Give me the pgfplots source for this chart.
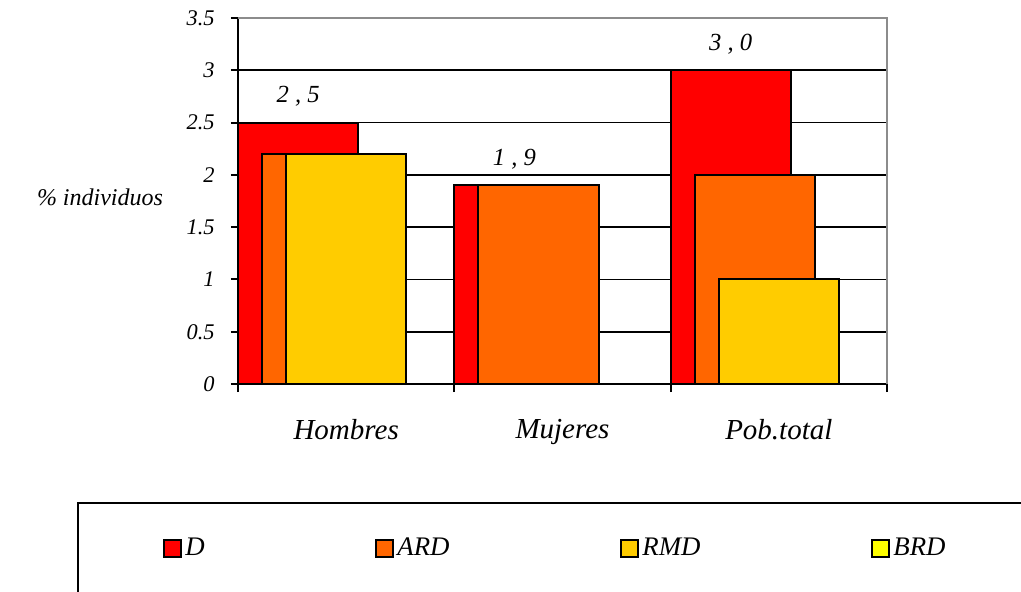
\documentclass[border=0pt]{standalone}
\usepackage{fontspec}
\setmainfont{Liberation Serif}
\usepackage{pgfplots}
\pgfplotsset{compat=1.18}

\definecolor{cD}{RGB}{255,0,0}
\definecolor{cARD}{RGB}{255,102,0}
\definecolor{cRMD}{RGB}{255,204,0}
\definecolor{cBRD}{RGB}{255,255,0}
\definecolor{frameGray}{RGB}{140,140,140}

\pgfplotsset{
  catbar/.style={
    ybar, bar width=0.5556, bar shift=0pt,
    draw=black, line width=1pt,
    legend image code/.code={%
      \draw[##1, line width=1pt] (0pt,-4.25pt) rectangle (8.5pt,4.25pt);}
  }
}

\begin{document}
\begin{tikzpicture}
\begin{axis}[
  name=ax, at={(0,0)}, anchor=south west,
  scale only axis, width=324.5pt, height=183pt,
  xmin=0, xmax=3, ymin=0, ymax=3.5,
  ytick={0,0.5,...,3.5},
  ymajorgrids, grid style={black, line width=0.9pt},
  axis line style={black, line width=1pt},
  tick pos=left, tick align=outside,
  tick style={black, line width=1pt},
  major tick length=3.5pt,
  xtick={0.5,1.5,2.5},
  xticklabels={Hombres,Mujeres,Pob.total},
  xtick style={draw=none},
  extra x ticks={0,1,2,3}, extra x tick labels={},
  extra x tick style={xtick style={draw=black, line width=1pt}, major tick length=4pt},
  /pgf/number format/assume math mode=true,
  xticklabel style={font=\fontsize{14.5}{16}\selectfont\itshape, anchor=north, inner sep=0pt, yshift=-14pt},
  yticklabel style={font=\fontsize{11.2}{13}\selectfont\itshape, anchor=east, inner sep=0pt, xshift=-8pt},
  legend columns=4,
  legend cell align=left,
  legend style={at={(axis description cs:-0.1156,-0.4481)}, anchor=west,
    draw=none, fill=none, inner sep=0pt, column sep=0pt,
    nodes={inner sep=1.5pt},
    font=\fontsize{13.4}{15}\selectfont\itshape},
]
% D
\addplot[catbar, fill=cD,
  nodes near coords={\pgfmathprintnumber[fixed, fixed zerofill, precision=1,
    set decimal separator={\ ,\ }, assume math mode=true]{\pgfplotspointmeta}},
  point meta=y,
  nodes near coords style={font=\fontsize{12.3}{14}\selectfont\itshape,
    anchor=south, inner sep=0pt, yshift=7.5pt, black}]
  coordinates {(0.2778,2.5) (1.2778,1.9) (2.2778,3.0)};
\addlegendentry{\makebox[93.5pt][l]{D}}
% ARD
\addplot[catbar, fill=cARD]
  coordinates {(0.3889,2.2) (1.3889,1.9) (2.3889,2.0)};
\addlegendentry{\makebox[110pt][l]{ARD}}
% RMD
\addplot[catbar, fill=cRMD]
  coordinates {(0.5,2.2) (2.5,1.0)};
\addlegendentry{\makebox[113pt][l]{RMD}}
% BRD (no bars)
\addlegendimage{catbar, fill=cBRD}
\addlegendentry{BRD}
\end{axis}
\node[font=\fontsize{12}{14}\selectfont\itshape] at (-69pt,93.5pt) {\% individuos};
\draw[frameGray, line width=1pt] (ax.north west) -- (ax.north east) -- (ax.south east);
\draw[black, line width=1pt] (-80pt,-59.5pt) rectangle (430pt,-140pt);
\pgfresetboundingbox
\useasboundingbox (-119pt,-103.5pt) rectangle (391.5pt,192pt);
\end{tikzpicture}
\end{document}
